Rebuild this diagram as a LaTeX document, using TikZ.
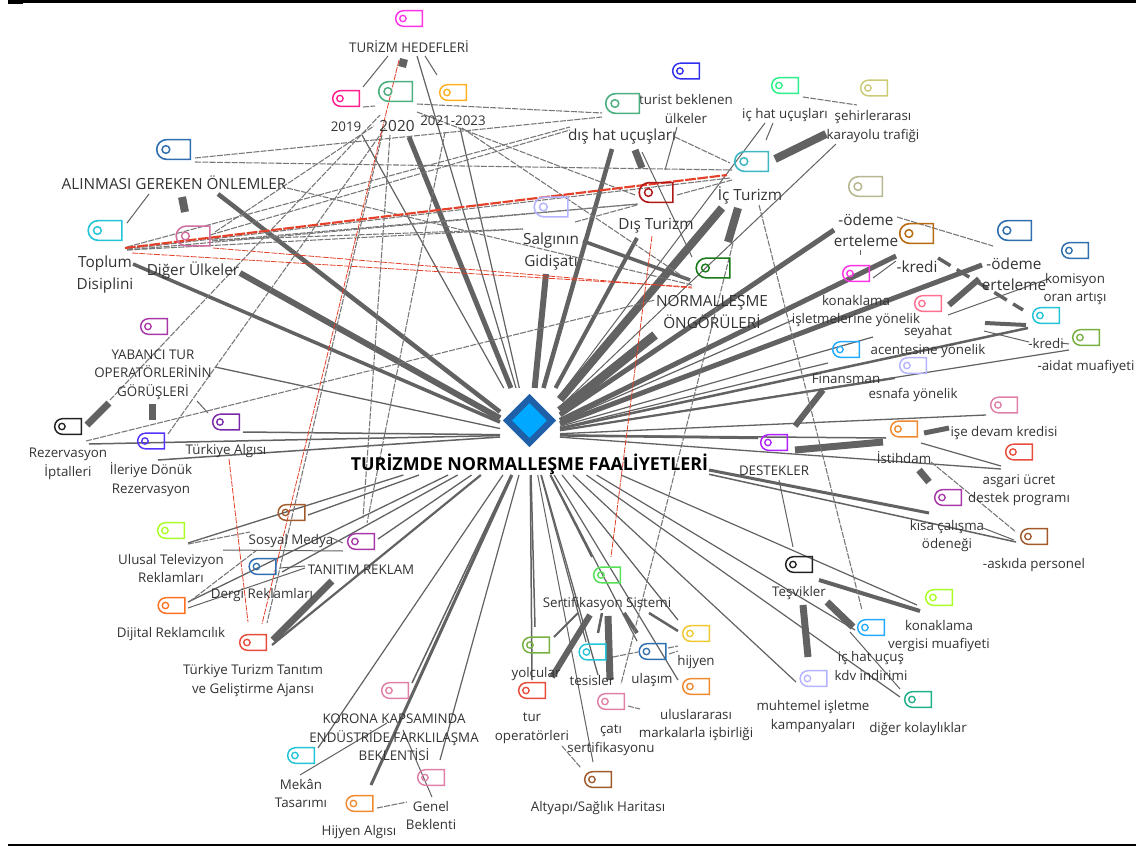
\documentclass[tikz,border=0pt]{standalone}
\usepackage{fontspec}
\setmainfont{Open Sans}
\usetikzlibrary{shapes.misc,shapes.geometric}
\definecolor{gy}{HTML}{626262}
\definecolor{gyd}{HTML}{777777}
\definecolor{txt}{HTML}{333333}
\definecolor{redl}{HTML}{E5402A}
\definecolor{hubin}{HTML}{00A8FF}
\definecolor{hubout}{HTML}{2060A8}
\definecolor{cMag}{HTML}{FF33E6}\definecolor{cRose}{HTML}{FF1F8F}\definecolor{cSea}{HTML}{4CAF7F}
\definecolor{cAmb}{HTML}{FFB020}\definecolor{cInd}{HTML}{3030EE}\definecolor{cMint}{HTML}{2CF08A}
\definecolor{cOlv}{HTML}{CCCC77}\definecolor{cTeal}{HTML}{3CB8C4}\definecolor{cDred}{HTML}{B01818}
\definecolor{cDgrn}{HTML}{1A7A1A}\definecolor{cLav}{HTML}{B4B4FF}\definecolor{cBlu}{HTML}{2F6FB0}
\definecolor{cCya}{HTML}{22C4D8}\definecolor{cOrc}{HTML}{D070A0}\definecolor{cPur}{HTML}{A838A8}
\definecolor{cBlk}{HTML}{222222}\definecolor{cVio}{HTML}{5533FF}\definecolor{cGrape}{HTML}{7A2AA8}
\definecolor{cBrn}{HTML}{A05A2C}\definecolor{cLime}{HTML}{AAFF22}\definecolor{cOrn}{HTML}{FF7020}
\definecolor{cRed}{HTML}{E84C3C}\definecolor{cPnk}{HTML}{E080A8}\definecolor{cOrg}{HTML}{F08A30}
\definecolor{cLgr}{HTML}{55E055}\definecolor{cMoss}{HTML}{77B040}\definecolor{cGold}{HTML}{F0C830}
\definecolor{cSky}{HTML}{22AAFF}\definecolor{cJade}{HTML}{20B088}\definecolor{cElec}{HTML}{B020FF}
\definecolor{cSal}{HTML}{FF7090}\definecolor{cKhk}{HTML}{B8B890}\definecolor{cRust}{HTML}{B86A10}
\tikzset{
  g/.style={draw=gy,line width=#1*0.75pt},
  gd/.style={draw=gyd,line width=0.8pt,dash pattern=on 4.5pt off 1pt},
  gdt/.style={draw=gy,line width=2.6pt,dash pattern=on 11pt off 5.5pt},
  rd/.style={draw=redl,line width=0.6pt,dash pattern=on 4.5pt off 1pt},
  rdt/.style={draw=redl,line width=1.6pt,dash pattern=on 8pt off 1.2pt},
  tagS/.style={rounded rectangle,rounded rectangle right arc=none,draw=#1,line width=1.1pt,
    inner sep=0pt,minimum width=20pt,minimum height=11.7pt},
  tagB/.style={rounded rectangle,rounded rectangle right arc=none,draw=#1,line width=1.2pt,
    inner sep=0pt,minimum width=25.2pt,minimum height=14.8pt},
  labS/.style={inner sep=0pt,text=txt,align=center,font=\fontsize{10}{13.9}\selectfont},
  labB/.style={inner sep=0pt,text=txt,align=center,font=\fontsize{11.5}{16}\selectfont},
  hubbox/.style={rectangle,inner sep=0pt,outer sep=0pt},
}
% concept: id, tag position, colour, label position, text
\newcommand\cs[5]{\node[tagS=#3] (#1-t) at (#2) {};
  \draw[#3,line width=1pt] ([xshift=6pt]#1-t.west) circle (2.4pt);
  \node[labS] (#1) at (#4) {#5};}
\newcommand\cb[5]{\node[tagB=#3] (#1-t) at (#2) {};
  \draw[#3,line width=1.1pt] ([xshift=7.5pt]#1-t.west) circle (2.9pt);
  \node[labB] (#1) at (#4) {#5};}
\newcommand\hk[4]{\coordinate (#3-hub) at (#4); \draw[#1] (#2) -- (#3-hub);}
\newcommand\lk[5]{\coordinate (#2-#4) at (#3); \coordinate (#4-#2) at (#5); \draw[#1] (#2-#4) -- (#4-#2);}
\begin{document}
\begin{tikzpicture}[x=0.75pt,y=-0.75pt]
\useasboundingbox (0,0) rectangle (1136,846);
\fill[white] (0,0) rectangle (1136,846);
\fill[black] (8,0) rectangle (1136,3);
\fill[black] (8,0) rectangle (23,4);
\fill[black] (8,844) rectangle (1136,846);
\node[hubbox,minimum width=45pt,minimum height=70.5pt] (hubtop) at (530,435) {};
\node[hubbox,minimum width=268.5pt,minimum height=60pt] (hublow) at (530,435) {};
% hub connectors
\hk{g=4.5}{hubtop}{alin}{218,194}
\hk{g=6}{hubtop}{dig}{240,273}
\hk{g=3.5}{hubtop}{topl}{133,264}
\hk{g=1.3}{hubtop}{yab}{215,367}
\hk{g=1.5}{hubtop}{talg}{243,432}
\hk{g=1.5}{hubtop}{rez}{89,444}
\hk{g=1.5}{hubtop}{iler}{158,460}
\hk{g=1.2}{hubtop}{yb}{362,135}
\hk{g=1.2}{hubtop}{hed}{417,56}
\hk{g=1.2}{hubtop}{yc}{460,128}
\hk{g=5}{hubtop}{ya}{409,137}
\hk{g=6}{hubtop}{sal}{546,274}
\hk{g=4.5}{hubtop}{dhat}{612,149}
\hk{g=4}{hubtop}{dist}{637,238}
\hk{g=8}{hubtop}{ict}{722,208}
\hk{g=9}{hubtop}{norm}{655,335}
\hk{g=5}{hubtop}{odma}{834,230}
\hk{g=5}{hubtop}{kra}{896,256}
\hk{g=5}{hubtop}{odmb}{982,265}
\hk{g=1}{hubtop}{ichu}{765,123}
\hk{g=1}{hubtop}{seh}{836,144}
\hk{g=1.2}{hubtop}{konis}{793,320}
\hk{g=1.2}{hubtop}{sey}{873,337}
\hk{g=1.2}{hubtop}{fin}{828,363}
\hk{g=2.2}{hubtop}{esn}{895,378}
\hk{g=1.2}{hubtop}{aid}{1069,350}
\hk{g=2.5}{hubtop}{krb}{1028,328}
\hk{g=1.3}{hubtop}{isd}{986,415}
\hk{g=2.5}{hubtop}{des}{758,438}
\hk{g=1.5}{hubtop}{ist}{886,438}
\hk{g=1.3}{hubtop}{asg}{1001,469}
\hk{g=3}{hublow}{kisa}{929,513}
\hk{g=1.5}{hublow}{aski}{1016,542}
\hk{g=1.2}{hublow}{konv}{917,605}
\hk{g=1.2}{hublow}{kdv}{855,630}
\hk{g=1.2}{hublow}{kol}{900,697}
\hk{g=1.2}{hublow}{muh}{796,682}
\hk{g=1.2}{hublow}{hij}{678,620}
\hk{g=1.2}{hublow}{ulu}{678,680}
\hk{g=1.2}{hublow}{ula}{637,641}
\hk{g=1.3}{hublow}{cati}{598,675}
\hk{g=1.2}{hublow}{tes}{586,642}
\hk{g=2}{hublow}{sert}{592,557}
\hk{g=1}{hublow}{alt}{593,762}
\hk{g=1.5}{hublow}{yol}{535,627}
\hk{g=1.5}{hublow}{turop}{532,680}
\hk{g=1.2}{hublow}{gen}{440,760}
\hk{g=1.5}{hublow}{kor}{412,683}
\hk{g=3}{hublow}{hija}{371,785}
\hk{g=1.2}{hublow}{mek}{318,748}
\hk{g=2.2}{hublow}{tta}{272,645}
\hk{g=1.3}{hublow}{tan}{378,539}
\hk{g=1.3}{hublow}{derg}{282,572}
\hk{g=1.3}{hublow}{dij}{188,602}
\hk{g=1.3}{hublow}{sos}{308,515}
\hk{g=1.3}{hublow}{ulus}{188,543}
% solid links between concepts
\lk{g=8}{hed}{404,59}{ya}{402,67}
\lk{g=1}{hed}{388,56}{yb}{363,87}
\lk{g=1}{hed}{425,56}{yc}{437,75}
\lk{g=8}{alin}{182,197}{dig}{185,212}
\lk{g=1}{alin}{149,194}{topl}{127,223}
\lk{g=7}{dhat}{635,150}{dist}{642,168}
\lk{g=1}{turb}{677,127}{dist}{665,170}
\lk{g=1}{dhat}{642,152}{norm}{692,257}
\lk{g=3.5}{sal}{583,241}{norm}{690,280}
\lk{g=8}{ict}{738,208}{norm}{728,242}
\lk{g=8}{ict}{775,159}{seh}{826,134}
\lk{g=1}{ict}{766,140}{ichu}{773,123}
\lk{g=1}{krb}{873,278}{kra}{896,261}
\lk{g=.8}{konis}{860,255}{odma}{860,250}
\lk{g=6}{sey}{949,305}{odmb}{979,279}
\lk{g=1}{sey}{948,315}{kom}{1048,279}
\lk{g=4}{sey}{985,323}{krb}{1026,325}
\lk{g=1}{sey}{984,331}{aid}{1029,342}
\lk{g=1}{krb}{1061,343}{aid}{1069,344}
\lk{g=6}{fin}{823,390}{des}{795,426}
\lk{g=7}{des}{795,450}{ist}{883,442}
\lk{g=5}{ist}{924,433}{isd}{949,428}
\lk{g=1.2}{ist}{921,443}{asg}{1001,466}
\lk{g=7}{ist}{919,470}{kisa}{929,482}
\lk{g=1}{kisa}{983,528}{aski}{1014,540}
\lk{g=1}{des}{779,480}{tesv}{793,547}
\lk{g=4}{tesv}{819,580}{konv}{920,611}
\lk{g=7}{tesv}{827,602}{kdv}{853,627}
\lk{g=7}{tesv}{803,605}{muh}{808,657}
\lk{g=1}{kdv}{850,632}{kol}{900,689}
\lk{g=2}{sert}{578,613}{yol}{554,637}
\lk{g=6}{sert}{590,615}{turop}{552,677}
\lk{g=2.5}{sert}{602,613}{tes}{598,633}
\lk{g=7}{sert}{608,616}{cati}{610,680}
\lk{g=4}{sert}{624,613}{ula}{637,633}
\lk{g=2.5}{sert}{649,613}{hij}{678,631}
\lk{g=1}{kor}{403,730}{gen}{432,797}
\lk{g=1}{kor}{387,723}{mek}{300,775}
\lk{g=7}{tan}{332,581}{tta}{273,640}
\lk{g=7}{rez}{87,425}{yab}{109,403}
\lk{g=7}{yab}{152,404}{iler}{152,420}
\lk{g=1}{yab}{197,401}{talg}{208,413}
\lk{g=1}{ulus}{223,550}{tan}{343,551}
\lk{g=1}{dij}{188,608}{tan}{305,568}
\lk{g=1}{derg}{280,568}{tan}{305,566}
% dashed links
\lk{gdt}{kra}{938,258}{krb}{1023,310}
\lk{gd}{yb}{363,107}{ya}{375,106}
\lk{gd}{rez}{110,400}{ya}{380,115}
\lk{gd}{iler}{168,434}{ya}{385,128}
\lk{gd}{dig}{215,232}{ya}{374,126}
\lk{gd}{ya}{417,104}{dhat}{602,113}
\lk{gd}{alin}{195,158}{dhat}{602,117}
\lk{gd}{alin}{195,162}{ict}{732,170}
\lk{gd}{alin}{287,188}{norm}{692,285}
\lk{gd}{topl}{127,247}{dhat}{570,127}
\lk{gd}{dig}{210,235}{dhat}{570,130}
\lk{gd}{topl}{127,250}{sal}{523,229}
\lk{gd}{dig}{212,240}{sal}{523,229}
\lk{gd}{topl}{127,249}{ict}{730,178}
\lk{gd}{topl}{127,250}{dist}{638,204}
\lk{gd}{dig}{212,241}{dist}{638,204}
\lk{gd}{sal}{575,222}{dist}{637,205}
\lk{gd}{dist}{677,195}{ict}{732,180}
\lk{gd}{dhat}{675,137}{ict}{730,163}
\lk{gd}{ya}{417,112}{dist}{635,195}
\lk{gd}{yc}{462,128}{norm}{688,280}
\lk{gd}{ichu}{803,97}{seh}{857,105}
\lk{gd}{ict}{759,205}{kdv}{862,610}
\lk{gd}{ict}{733,243}{cati}{621,684}
\lk{gd}{odma}{897,217}{odmb}{993,246}
\lk{gd}{rez}{86,441}{norm}{655,300}
\lk{gd}{ya}{390,135}{tan}{363,518}
\lk{gd}{yc}{445,132}{tan}{367,523}
\lk{gd}{ya}{382,135}{tta}{267,623}
\lk{gd}{ulus}{188,544}{sos}{250,532}
\lk{gd}{dij}{189,602}{sos}{257,550}
\lk{gd}{sos}{332,538}{tan}{343,543}
\lk{gd}{ist}{931,462}{aski}{1016,532}
\lk{gd}{tes}{613,657}{ula}{638,652}
\lk{gd}{ula}{668,648}{hij}{678,646}
\lk{gd}{ula}{669,654}{ulu}{678,651}
\lk{gd}{cati}{628,706}{ulu}{640,709}
\lk{gd}{turop}{562,746}{alt}{581,768}
\lk{gd}{hija}{377,808}{gen}{407,802}
% red links
\lk{rdt}{topl}{125,248}{ict}{727,175}
\lk{rd}{topl}{132,253}{norm}{692,287}
\lk{rd}{dig}{213,248}{norm}{692,288}
\lk{rd}{dist}{652,236}{sert}{611,557}
\lk{rd}{hed}{399,60}{tta}{262,624}
\lk{rd}{talg}{229,459}{tta}{248,622}
% concepts
\cs{hed}{409,18.5}{cMag}{409,47}{TURİZM HEDEFLERİ}
\cs{yb}{346,98.5}{cRose}{346,127}{2019}
\cb{ya}{395.5,91.5}{cSea}{397,126}{2020}
\cs{yc}{453,92.5}{cAmb}{453,121}{2021-2023}
\cs{turb}{686,71}{cInd}{686,109}{turist beklenen\\ülkeler}
\cb{dhat}{622.5,103.5}{cSea}{622,137}{dış hat uçuşları}
\cs{ichu}{785,85.5}{cMint}{785,115}{iç hat uçuşları}
\cs{seh}{874,88}{cOlv}{873,126.5}{şehirlerarası\\karayolu trafiği}
\cb{ict}{751.5,161.5}{cTeal}{750,195}{İç Turizm}
\cb{dist}{656,192.5}{cDred}{656,226}{Dış Turizm}
\cb{norm}{713,268}{cDgrn}{712,312}{NORMALLEŞME\\ÖNGÖRÜLERİ}
\cb{sal}{551,207}{cLav}{551,251.5}{Salgının\\Gidişatı}
\cb{alin}{173.5,149.5}{cBlu}{174,183}{ALINMASI GEREKEN ÖNLEMLER}
\cb{topl}{105,230.5}{cCya}{105,274.5}{Toplum\\Disiplini}
\cb{dig}{193,236}{cOrc}{193,270}{Diğer Ülkeler}
\cs{yab}{154,326.5}{cPur}{153,374.5}{YABANCI TUR\\OPERATÖRLERİNİN\\GÖRÜŞLERİ}
\cs{rez}{68,426.5}{cBlk}{68,464}{Rezervasyon\\İptalleri}
\cs{iler}{151,441}{cVio}{151,479.5}{İleriye Dönük\\Rezervasyon}
\cs{talg}{226,422}{cGrape}{226,451}{Türkiye Algısı}
\cs{sos}{291.5,512.5}{cBrn}{291,541}{Sosyal Medya}
\cs{ulus}{171,530.5}{cLime}{171,568.5}{Ulusal Televizyon\\Reklamları}
\cs{tan}{361,541.5}{cPur}{361,570}{TANITIM REKLAM}
\cs{derg}{262.5,566.5}{cBlu}{262,595}{Dergi Reklamları}
\cs{dij}{171.5,605.5}{cOrn}{171,634}{Dijital Reklamcılık}
\cs{tta}{253,642.5}{cRed}{253,680.5}{Türkiye Turizm Tanıtım\\ve Geliştirme Ajansı}
\cs{kor}{395,690.5}{cPnk}{394,737.5}{KORONA KAPSAMINDA\\ENDÜSTRİDE FARKLILAŞMA\\BEKLENTİSİ}
\cs{mek}{301,755.5}{cCya}{301,793.5}{Mekân\\Tasarımı}
\cs{hija}{359.5,803.5}{cOrg}{359,832}{Hijyen Algısı}
\cs{gen}{431,777.5}{cPnk}{431,815.5}{Genel\\Beklenti}
\cs{sert}{607,575}{cLgr}{607,604}{Sertifikasyon Sistemi}
\cs{yol}{536,645}{cMoss}{536,674}{yolcular}
\cs{turop}{532,690.5}{cRed}{532,728}{tur\\operatörleri}
\cs{tes}{592.5,652}{cCya}{592,680}{tesisler}
\cs{ula}{652.5,651.5}{cBlu}{652,680}{ulaşım}
\cs{hij}{696,633.5}{cGold}{696,662}{hijyen}
\cs{ulu}{696,686.5}{cOrg}{696,725}{uluslararası\\markalarla işbirliği}
\cs{cati}{611,701.5}{cPnk}{611,740}{çatı\\sertifikasyonu}
\cs{alt}{598,779.5}{cBrn}{598,808}{Altyapı/Sağlık Haritası}
\cs{muh}{813.5,678.5}{cLav}{813,716.5}{muhtemel işletme\\kampanyaları}
\cs{tesv}{799,564.5}{cBlk}{799,593}{Teşvikler}
\cs{kdv}{871,627.5}{cSky}{871,666}{iç hat uçuş\\kdv indirimi}
\cs{konv}{939,597.5}{cLime}{939,636}{konaklama\\vergisi muafiyeti}
\cs{kol}{918,699.5}{cJade}{918,729}{diğer kolaylıklar}
\cs{des}{774,442.5}{cElec}{774,471}{DESTEKLER}
\cs{kisa}{948,497.5}{cPur}{947,536}{kısa çalışma\\ödeneği}
\cs{ist}{904,429}{cOrg}{904,458}{İstihdam}
\cs{isd}{1004,405}{cPnk}{1004,433}{işe devam kredisi}
\cs{asg}{1019,452}{cRed}{1019,490}{asgari ücret\\destek programı}
\cs{aski}{1034,536.5}{cBrn}{1034,565}{-askıda personel}
\cs{fin}{846,349.5}{cSky}{846,379}{Finansman}
\cs{esn}{913,365.5}{cLav}{913,395}{esnafa yönelik}
\cs{sey}{928,303.5}{cSal}{928,341.5}{seyahat\\acentesine yönelik}
\cs{konis}{856,273.5}{cMag}{856,311}{konaklama\\işletmelerine yönelik}
\cb{odma}{865.5,186.5}{cKhk}{866,230.5}{-ödeme\\erteleme}
\cb{kra}{916.5,233.5}{cRust}{917,267}{-kredi}
\cb{odmb}{1014.5,230.5}{cBlu}{1014,274.5}{-ödeme\\erteleme}
\cs{kom}{1075,250.5}{cBlu}{1075,289}{komisyon\\oran artışı}
\cs{krb}{1046,315.5}{cCya}{1046,343}{-kredi}
\cs{aid}{1086,337.5}{cMoss}{1086,367}{-aidat muafiyeti}
% hub
\node[diamond,aspect=1,inner sep=0pt,minimum size=35.2pt,fill=hubin,draw=hubout,line width=4.8pt] (hub) at (529.5,420.5) {};
\node[inner sep=0pt,text=black,font=\bfseries\fontsize{13.4}{16}\selectfont] (hublabel) at (529.5,464) {TURİZMDE NORMALLEŞME FAALİYETLERİ};
\end{tikzpicture}
\end{document}
